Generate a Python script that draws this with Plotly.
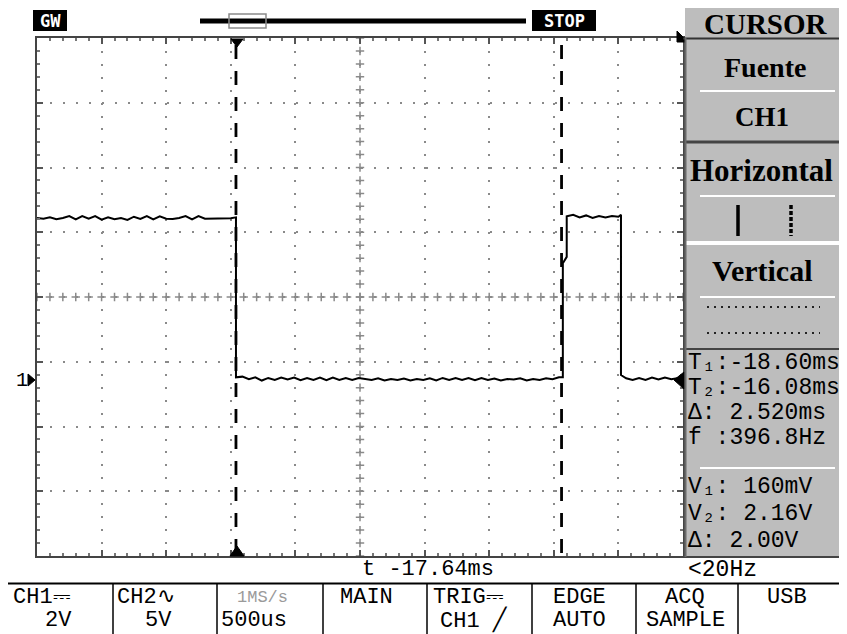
import numpy as np
import plotly.graph_objects as go

t_center = -17.64          # ms, horizontal position readout
time_per_div = 0.5         # ms (500us/div)
volt_per_div = 2.0         # V (CH1 2V)
v_center = 2.56            # V at screen centre (ground marker 1.28 div below centre)
cursor_t = [-18.60, -16.08]

hi1_t = [-20.14, -20.09, -20.04, -19.99, -19.94, -19.89, -19.84, -19.79, -19.74, -19.69,
         -19.64, -19.59, -19.54, -19.49, -19.44, -19.39, -19.34, -19.29, -19.24, -19.19,
         -19.14, -19.09, -19.04, -18.99, -18.94, -18.89, -18.84, -18.79, -18.74, -18.69,
         -18.64, -18.60]
hi1_v = [5.00, 4.98, 5.02, 4.96, 5.00, 5.06, 4.96, 5.06, 4.98, 5.06,
         4.95, 5.02, 4.96, 5.00, 4.94, 5.04, 4.97, 5.06, 4.96, 5.05,
         4.98, 4.97, 5.00, 5.06, 4.96, 5.06, 4.98, 4.98, 4.97, 4.98,
         4.99, 5.02]

lo1_t = [-18.60, -18.55, -18.50, -18.45, -18.40, -18.35, -18.30, -18.25, -18.20, -18.15,
         -18.10, -18.05, -18.00, -17.95, -17.90, -17.85, -17.80, -17.75, -17.70, -17.65,
         -17.60, -17.55, -17.50, -17.45, -17.40, -17.35, -17.30, -17.25, -17.20, -17.15,
         -17.10, -17.05, -17.00, -16.95, -16.90, -16.85, -16.80, -16.75, -16.70, -16.65,
         -16.60, -16.55, -16.50, -16.45, -16.40, -16.35, -16.30, -16.25, -16.20, -16.15,
         -16.10]
lo1_v = [0.08, 0.10, 0.02, 0.08, -0.02, 0.06, 0.00, 0.07, 0.01, 0.07,
         -0.01, 0.06, 0.00, 0.07, -0.01, 0.07, 0.00, 0.06, 0.00, 0.06,
         0.02, 0.00, 0.05, -0.02, 0.03, 0.00, 0.04, -0.02, 0.03, 0.00,
         0.05, -0.02, 0.06, 0.00, 0.06, 0.00, 0.06, -0.01, 0.06, 0.00,
         0.04, -0.02, 0.03, 0.01, 0.05, -0.02, 0.03, 0.00, 0.05, 0.02,
         0.08]

rise_t = [-16.07, -16.07, -16.04, -16.04]
rise_v = [0.08, 3.60, 3.80, 5.05]

hi2_t = [-16.04, -15.99, -15.94, -15.89, -15.84, -15.79, -15.74, -15.69, -15.64, -15.62]
hi2_v = [5.05, 5.10, 5.02, 5.08, 5.00, 5.06, 5.02, 5.06, 5.04, 5.10]

lo2_t = [-15.62, -15.58, -15.53, -15.48, -15.43, -15.38, -15.33, -15.28, -15.23, -15.18, -15.14]
lo2_v = [0.15, 0.05, 0.00, 0.06, 0.00, 0.07, 0.01, 0.07, 0.02, 0.06, 0.08]

measure_rows = ["T₁:-18.60ms", "T₂:-16.08ms", "Δ: 2.520ms", "f :396.8Hz",
                "V₁: 160mV", "V₂: 2.16V", "Δ: 2.00V"]
bottom_top = ["CH1⎓", "CH2∿", "1MS/s", "MAIN", "TRIG⎓", "EDGE", "ACQ", "USB"]
bottom_bot = ["2V", "5V", "500us", "", "CH1 ╱", "AUTO", "SAMPLE", ""]

time_ms = hi1_t + lo1_t + rise_t + hi2_t + lo2_t
ch1_v = hi1_v + lo1_v + rise_v + hi2_v + lo2_v

# ---------------- geometry helpers (page pixels) ----------------
PAGE_W, PAGE_H = 847, 634
OFF = 8                              # default body margin of the page
W, H = PAGE_W - OFF, PAGE_H - OFF
L, R, T, B = 37, 683, 38, 556        # plot area in page pixels
def px(xp):
    return (xp - L) / (R - L)
def py(yp):
    return (B - yp) / (B - T)

x_rng = [t_center - 5 * time_per_div, t_center + 5 * time_per_div]
y_rng = [v_center - 4 * volt_per_div, v_center + 4 * volt_per_div]

fig = go.Figure()

# centre-line crosses
minor_x = t_center + time_per_div / 5 * np.arange(-25, 26)
minor_y = v_center + volt_per_div / 5 * np.arange(-20, 21)
fig.add_trace(go.Scatter(x=minor_x, y=[v_center] * len(minor_x), mode="markers",
                         marker=dict(symbol="cross-thin", size=6, line=dict(color="#8a8a8a", width=1.5)),
                         hoverinfo="skip"))
fig.add_trace(go.Scatter(x=[t_center] * len(minor_y), y=minor_y, mode="markers",
                         marker=dict(symbol="cross-thin", size=6, line=dict(color="#8a8a8a", width=1.5)),
                         hoverinfo="skip"))

# waveform
fig.add_trace(go.Scatter(x=time_ms, y=ch1_v, mode="lines",
                         line=dict(color="black", width=2), hoverinfo="skip"))

shapes = []
def rect(x0, y0, x1, y1, fill, line_color=None, lw=0):
    shapes.append(dict(type="rect", xref="paper", yref="paper", x0=px(x0), x1=px(x1),
                       y0=py(y1), y1=py(y0), fillcolor=fill,
                       line=dict(color=line_color or fill, width=lw), layer="above"))
def hline(x0, x1, y, color, w, dash="solid"):
    shapes.append(dict(type="line", xref="paper", yref="paper", x0=px(x0), x1=px(x1),
                       y0=py(y), y1=py(y), line=dict(color=color, width=w, dash=dash), layer="above"))
def vline(x, y0, y1, color, w, dash="solid"):
    shapes.append(dict(type="line", xref="paper", yref="paper", x0=px(x), x1=px(x),
                       y0=py(y0), y1=py(y1), line=dict(color=color, width=w, dash=dash), layer="above"))
def tri(points, color="black"):
    path = "M " + " L ".join(f"{px(a)},{py(b)}" for a, b in points) + " Z"
    shapes.append(dict(type="path", xref="paper", yref="paper", path=path,
                       fillcolor=color, line=dict(color=color, width=1), layer="above"))

# cursors (data x)
for i, ct in enumerate(cursor_t):
    shapes.append(dict(type="line", xref="x", yref="paper", x0=ct, x1=ct, y0=py(553), y1=py(41),
                       line=dict(color="black", width=2.8, dash="14px,12px"), layer="above"))
# T1 triangles
tri([(231, 39), (243, 39), (237, 47)])
tri([(230, 556), (244, 556), (237, 546)])
# top right corner triangle, trigger-level marker, ground marker
tri([(677, 31), (688, 42), (677, 42)])
tri([(684, 372), (684, 389), (674, 380)])
tri([(28, 374), (28, 386), (35, 380)])

# top status bar
hline(200, 526, 21, "black", 5)
rect(229, 14, 266, 28, "rgba(0,0,0,0)", "#8a8a8a", 1.5)
rect(33, 10, 67, 31, "black")
rect(532, 10, 596, 31, "black")

# right panel
PG = "#bdbdbd"
rect(685, 8, 847, 38, PG)
rect(685, 39, 847, 141, PG)
rect(685, 143, 847, 241, PG)
rect(685, 245, 847, 348, PG)
rect(685, 350, 847, 556, PG)
hline(683, 847, 38.5, "#333333", 2)
hline(683, 847, 142, "#444444", 3)
hline(683, 847, 349, "#444444", 2)
hline(683, 847, 557, "#444444", 2)
vline(685.5, 38, 557, "#6a6a6a", 2)
for yy in (91, 196, 297, 468):
    hline(700, 835, yy, "white", 2)
vline(738, 205, 236, "black", 3.5)
vline(791, 205, 236, "black", 3.5, dash="4px,2px")
hline(707, 820, 307, "#222222", 2, dash="2px,5px")
hline(707, 820, 333, "#222222", 2, dash="2px,5px")

# bottom bar
hline(8, 847, 583.5, "black", 2)
for xx in (113, 217, 323, 427, 532, 636, 738):
    vline(xx, 583, 634, "black", 1.5)

anns = []
def text(s, x, y, size, family="Liberation Mono", color="black", anchor="center", weight="normal"):
    anns.append(dict(text=s, xref="paper", yref="paper", x=px(x), y=py(y), xanchor=anchor,
                     yanchor="middle", showarrow=False,
                     font=dict(family=family, size=size, color=color, weight=weight)))

SERIF = "Liberation Serif"
text("CURSOR", 766, 24, 29, SERIF, weight="bold")
text("Fuente", 765, 67, 28, SERIF, weight="bold")
text("CH1", 762, 117, 27, SERIF, weight="bold")
text("Horizontal", 761, 170, 31, SERIF, weight="bold")
text("Vertical", 762, 270, 30, SERIF, weight="bold")
row_y = [363, 388, 413, 438, 487, 514, 541]
for s, yy in zip(measure_rows, row_y):
    text(s, 686, yy, 23, anchor="left")
text("&lt;20Hz", 686, 570, 23, anchor="left")
text("t -17.64ms", 428, 569, 22)
text("1", 22, 380, 20)
text("GW", 50, 20.5, 17, "DejaVu Sans Mono", color="white", weight="bold")
text("STOP", 564, 20.5, 17, "DejaVu Sans Mono", color="white", weight="bold")

top_x = [42, 146, 262, 366, 468, 579, 685, 787]
bot_x = [58, 158, 254, 366, 474, 579, 685, 787]
for i, (a, b) in enumerate(zip(bottom_top, bottom_bot)):
    if a == "1MS/s":
        text(a, top_x[i], 597, 17, color="#9a9a9a")
    else:
        text(a, top_x[i], 597, 22)
    if b:
        text(b, bot_x[i], 620, 22)

fig.update_layout(
    width=W, height=H,
    margin=dict(l=L - OFF, r=PAGE_W - R, t=T - OFF, b=PAGE_H - B, pad=0),
    paper_bgcolor="white", plot_bgcolor="white",
    showlegend=False, shapes=shapes, annotations=anns,
    xaxis=dict(range=x_rng, tick0=t_center, dtick=time_per_div, showgrid=True,
               gridcolor="#8a8a8a", gridwidth=2, griddash="2px,10.92px", zeroline=False,
               showline=True, linecolor="#444444", linewidth=2, mirror="allticks",
               ticks="inside", ticklen=6, tickwidth=1.5, tickcolor="#555555",
               minor=dict(tick0=t_center, dtick=time_per_div / 5, ticks="inside", ticklen=3,
                          tickcolor="#777777", showgrid=False),
               showticklabels=False, fixedrange=True),
    yaxis=dict(range=y_rng, tick0=v_center, dtick=volt_per_div, showgrid=True,
               gridcolor="#8a8a8a", gridwidth=2, griddash="2px,10.95px", zeroline=False,
               showline=True, linecolor="#444444", linewidth=2, mirror="allticks",
               ticks="inside", ticklen=6, tickwidth=1.5, tickcolor="#555555",
               minor=dict(tick0=v_center, dtick=volt_per_div / 5, ticks="inside", ticklen=3,
                          tickcolor="#777777", showgrid=False),
               showticklabels=False, fixedrange=True),
)

fig.write_html("out.html")
